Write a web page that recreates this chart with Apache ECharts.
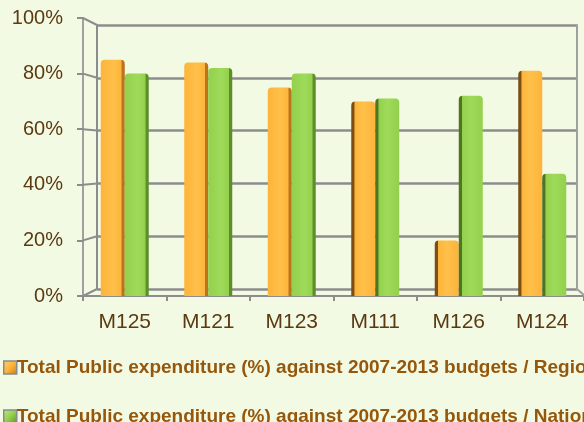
<!DOCTYPE html>
<html><head><meta charset="utf-8">
<script src="https://cdn.jsdelivr.net/npm/echarts@6/dist/echarts.min.js"></script>
<style>html,body{margin:0;padding:0;background:#F3FAE3;}#c{width:584px;height:422px;}</style>
</head><body><div id="c"></div>
<script>
const categories = ['M125', 'M121', 'M123', 'M111', 'M126', 'M124'];
const regional = [85, 84, 75, 70, 20, 81];
const national = [80, 82, 80, 71, 72, 44];
const yTicks = [0, 20, 40, 60, 80, 100];
const seriesNames = [
  'Total Public expenditure (%) against 2007-2013 budgets / Regional',
  'Total Public expenditure (%) against 2007-2013 budgets / National'
];

const GRID = '#8C8C8C';
function grad(base, dark, light, darkRight) {
  const stops = darkRight
    ? [{offset:0,color:base},{offset:0.55,color:light},{offset:0.86,color:base},{offset:0.87,color:dark},{offset:1,color:dark}]
    : [{offset:0,color:dark},{offset:0.13,color:dark},{offset:0.14,color:base},{offset:0.5,color:light},{offset:1,color:base}];
  return new echarts.graphic.LinearGradient(0,0,1,0,stops);
}
const oR = grad('#FDB43A','#B9741C','#FFC04A',true), oL = grad('#FDB43A','#7A4E14','#FFC04A',false);
const gR = grad('#93D04C','#5E8E2C','#9FDB5A',true), gL = grad('#93D04C','#4E7424','#9FDB5A',false);
const oIcon = new echarts.graphic.LinearGradient(0,0,1,1,[{offset:0,color:'#FFD070'},{offset:0.5,color:'#FDB43A'},{offset:1,color:'#C07A1A'}]);
const gIcon = new echarts.graphic.LinearGradient(0,0,1,1,[{offset:0,color:'#BDEB8A'},{offset:0.5,color:'#93D04C'},{offset:1,color:'#5E8E2C'}]);

const legendText = {fontFamily: 'Liberation Sans, Arial', fontWeight: 'bold', fontSize: 19, color: '#95570C', padding: [0,0,0,-5]};
function legendAt(top, name, icon) {
  return {
    orient: 'vertical', left: 3, top: top, padding: 0,
    itemWidth: 13, itemHeight: 13, icon: 'rect',
    itemStyle: {borderColor: '#8A8A8A', borderWidth: 1.5, color: icon},
    textStyle: legendText, data: [name]
  };
}

const chart = echarts.init(document.getElementById('c'), null, {renderer:'canvas'});
const option = {
  backgroundColor: '#F3FAE3',
  animation: false,
  legend: [legendAt(358, seriesNames[0], oIcon), legendAt(407, seriesNames[1], gIcon)],
  grid: [
    {left: 97, top: 25, width: 480, height: 264},
    {left: 83, top: 18, width: 505, height: 278}
  ],
  xAxis: [
    {gridIndex: 0, type: 'value', min: 0, max: 1, show: false},
    {gridIndex: 1, type: 'category', data: categories,
     axisLine: {lineStyle: {color: GRID, width: 2}},
     axisTick: {show: true, length: 5, lineStyle: {color: GRID, width: 2}},
     axisLabel: {fontFamily: 'Liberation Sans, Arial', fontSize: 21, color: '#5A3A12', margin: 16}}
  ],
  yAxis: [
    {gridIndex: 0, type: 'value', min: 0, max: 100, interval: 20,
     axisLine: {show: true, lineStyle: {color: GRID, width: 2}},
     axisTick: {show: false}, axisLabel: {show: false},
     splitLine: {lineStyle: {color: GRID, width: 2.5}}},
    {gridIndex: 0, type: 'value', min: 0, max: 100, interval: 20, position: 'right',
     axisLine: {show: true, lineStyle: {color: '#A0A0A0', width: 2}},
     axisTick: {show: false}, axisLabel: {show: false}, splitLine: {show: false}},
    {gridIndex: 1, type: 'value', min: 0, max: 100, interval: 20,
     axisLine: {show: true, lineStyle: {color: '#A0A0A0', width: 2}},
     axisTick: {show: true, length: 6, lineStyle: {color: GRID, width: 2}},
     axisLabel: {fontFamily: 'Liberation Sans, Arial', fontSize: 20, color: '#5A3A12', margin: 20,
       formatter: v => v + '%'},
     splitLine: {show: false}}
  ],
  series: [
    {name: seriesNames[0], type: 'bar', xAxisIndex: 1, yAxisIndex: 2, barWidth: 24, barGap: '0%',
     itemStyle: {color: oR, borderRadius: [4,4,0,0]},
     data: regional.map((v,i) => ({value: v, itemStyle: {color: i < 3 ? oR : oL}}))},
    {name: seriesNames[1], type: 'bar', xAxisIndex: 1, yAxisIndex: 2, barWidth: 24, barGap: '0%',
     itemStyle: {color: gR, borderRadius: [4,4,0,0]},
     data: national.map((v,i) => ({value: v, itemStyle: {color: i < 3 ? gR : gL}}))}
  ]
};
chart.setOption(option);

// 3D wall connectors computed from the axes' scales
const elems = [];
yTicks.forEach(t => {
  const b = chart.convertToPixel({xAxisIndex: 0, yAxisIndex: 0}, [0, t]);
  const y = chart.convertToPixel({yAxisIndex: 2}, t);
  elems.push({type: 'line', shape: {x1: 83, y1: y, x2: b[0], y2: b[1]}, style: {stroke: GRID, lineWidth: 2}, z: 1});
});
const b0 = chart.convertToPixel({xAxisIndex: 0, yAxisIndex: 0}, [1, 0]);
const yf0 = chart.convertToPixel({yAxisIndex: 2}, 0);
elems.push({type: 'line', shape: {x1: b0[0], y1: b0[1], x2: b0[0] + 8, y2: yf0}, style: {stroke: '#A0A0A0', lineWidth: 2}, z: 1});
chart.setOption({graphic: {elements: elems}});
</script></body></html>
